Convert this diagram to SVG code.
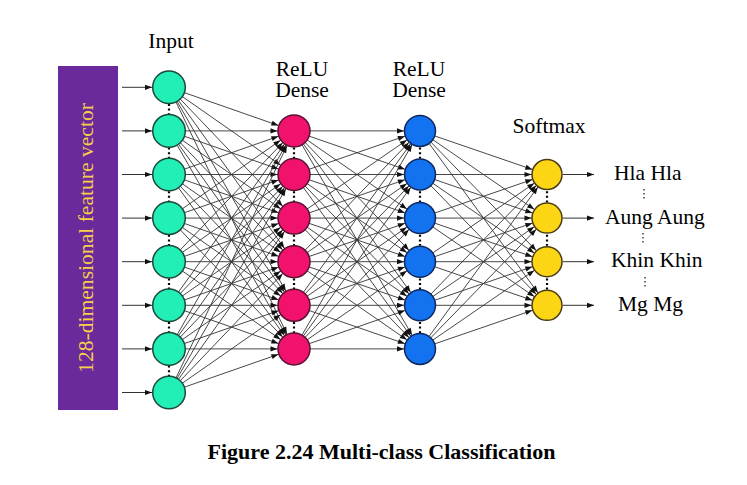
<svg xmlns="http://www.w3.org/2000/svg" width="747" height="485" viewBox="0 0 747 485">
<style>
text{font-family:"Liberation Serif","Times New Roman",serif;fill:#000}
.lbl{font-size:21.5px}
.c line{stroke:#333;stroke-width:0.9;fill:none}
.io line{stroke:#333;stroke-width:1}
.nin{fill:#22efb6;stroke:#1c4a3c;stroke-width:1.5}
.nr1{fill:#f0126c;stroke:#5a1232;stroke-width:1.5}
.nr2{fill:#1272f0;stroke:#10285e;stroke-width:1.5}
.nsm{fill:#fcd614;stroke:#4a3c10;stroke-width:1.5}
.dots line{stroke:#000;stroke-width:2.2;stroke-dasharray:2 2.6}
.ldots line{stroke:#333;stroke-width:1.4;stroke-dasharray:1.4 2.6}
</style>
<defs>
<marker id="a0" markerUnits="userSpaceOnUse" markerWidth="8" markerHeight="6" refX="0" refY="0" orient="auto" overflow="visible"><path d="M-7,-2.6 L0,0 L-7,2.6 z" fill="#111"/></marker>
<marker id="a16" markerUnits="userSpaceOnUse" markerWidth="8" markerHeight="6" refX="16.5" refY="0" orient="auto" overflow="visible"><path d="M-7,-2.6 L0,0 L-7,2.6 z" fill="#111"/></marker>
<marker id="a155" markerUnits="userSpaceOnUse" markerWidth="8" markerHeight="6" refX="16" refY="0" orient="auto" overflow="visible"><path d="M-7,-2.6 L0,0 L-7,2.6 z" fill="#111"/></marker>
<marker id="a15" markerUnits="userSpaceOnUse" markerWidth="8" markerHeight="6" refX="15.5" refY="0" orient="auto" overflow="visible"><path d="M-7,-2.6 L0,0 L-7,2.6 z" fill="#111"/></marker>
</defs>
<rect width="747" height="485" fill="#fff"/>

<g id="feature-vector">
<rect x="58" y="66" width="60" height="344" fill="#6a2a9c"/>
<text transform="translate(93,238) rotate(-90)" text-anchor="middle" style="fill:#f7d04a;font-size:21.6px">128-dimensional feature vector</text>
</g>

<g id="connectors">
<g class="io" marker-end="url(#a0)">
<line x1="122" y1="87.3" x2="152" y2="87.3"/>
<line x1="122" y1="130.9" x2="152" y2="130.9"/>
<line x1="122" y1="174.5" x2="152" y2="174.5"/>
<line x1="122" y1="218.1" x2="152" y2="218.1"/>
<line x1="122" y1="261.7" x2="152" y2="261.7"/>
<line x1="122" y1="305.3" x2="152" y2="305.3"/>
<line x1="122" y1="348.9" x2="152" y2="348.9"/>
<line x1="122" y1="392.5" x2="152" y2="392.5"/>
<line x1="563" y1="174.5" x2="594" y2="174.5"/>
<line x1="563" y1="218.1" x2="594" y2="218.1"/>
<line x1="563" y1="261.7" x2="594" y2="261.7"/>
<line x1="563" y1="305.3" x2="594" y2="305.3"/>
</g>
<g class="c" marker-end="url(#a16)">
<line x1="169" y1="87.3" x2="294" y2="130.9"/><line x1="169" y1="87.3" x2="294" y2="174.5"/><line x1="169" y1="87.3" x2="294" y2="218.1"/><line x1="169" y1="87.3" x2="294" y2="261.7"/><line x1="169" y1="87.3" x2="294" y2="305.3"/><line x1="169" y1="87.3" x2="294" y2="348.9"/>
<line x1="169" y1="130.9" x2="294" y2="130.9"/><line x1="169" y1="130.9" x2="294" y2="174.5"/><line x1="169" y1="130.9" x2="294" y2="218.1"/><line x1="169" y1="130.9" x2="294" y2="261.7"/><line x1="169" y1="130.9" x2="294" y2="305.3"/><line x1="169" y1="130.9" x2="294" y2="348.9"/>
<line x1="169" y1="174.5" x2="294" y2="130.9"/><line x1="169" y1="174.5" x2="294" y2="174.5"/><line x1="169" y1="174.5" x2="294" y2="218.1"/><line x1="169" y1="174.5" x2="294" y2="261.7"/><line x1="169" y1="174.5" x2="294" y2="305.3"/><line x1="169" y1="174.5" x2="294" y2="348.9"/>
<line x1="169" y1="218.1" x2="294" y2="130.9"/><line x1="169" y1="218.1" x2="294" y2="174.5"/><line x1="169" y1="218.1" x2="294" y2="218.1"/><line x1="169" y1="218.1" x2="294" y2="261.7"/><line x1="169" y1="218.1" x2="294" y2="305.3"/><line x1="169" y1="218.1" x2="294" y2="348.9"/>
<line x1="169" y1="261.7" x2="294" y2="130.9"/><line x1="169" y1="261.7" x2="294" y2="174.5"/><line x1="169" y1="261.7" x2="294" y2="218.1"/><line x1="169" y1="261.7" x2="294" y2="261.7"/><line x1="169" y1="261.7" x2="294" y2="305.3"/><line x1="169" y1="261.7" x2="294" y2="348.9"/>
<line x1="169" y1="305.3" x2="294" y2="130.9"/><line x1="169" y1="305.3" x2="294" y2="174.5"/><line x1="169" y1="305.3" x2="294" y2="218.1"/><line x1="169" y1="305.3" x2="294" y2="261.7"/><line x1="169" y1="305.3" x2="294" y2="305.3"/><line x1="169" y1="305.3" x2="294" y2="348.9"/>
<line x1="169" y1="348.9" x2="294" y2="130.9"/><line x1="169" y1="348.9" x2="294" y2="174.5"/><line x1="169" y1="348.9" x2="294" y2="218.1"/><line x1="169" y1="348.9" x2="294" y2="261.7"/><line x1="169" y1="348.9" x2="294" y2="305.3"/><line x1="169" y1="348.9" x2="294" y2="348.9"/>
<line x1="169" y1="392.5" x2="294" y2="130.9"/><line x1="169" y1="392.5" x2="294" y2="174.5"/><line x1="169" y1="392.5" x2="294" y2="218.1"/><line x1="169" y1="392.5" x2="294" y2="261.7"/><line x1="169" y1="392.5" x2="294" y2="305.3"/><line x1="169" y1="392.5" x2="294" y2="348.9"/>
</g>
<g class="c" marker-end="url(#a155)">
<line x1="294" y1="130.9" x2="420" y2="130.9"/><line x1="294" y1="130.9" x2="420" y2="174.5"/><line x1="294" y1="130.9" x2="420" y2="218.1"/><line x1="294" y1="130.9" x2="420" y2="261.7"/><line x1="294" y1="130.9" x2="420" y2="305.3"/><line x1="294" y1="130.9" x2="420" y2="348.9"/>
<line x1="294" y1="174.5" x2="420" y2="130.9"/><line x1="294" y1="174.5" x2="420" y2="174.5"/><line x1="294" y1="174.5" x2="420" y2="218.1"/><line x1="294" y1="174.5" x2="420" y2="261.7"/><line x1="294" y1="174.5" x2="420" y2="305.3"/><line x1="294" y1="174.5" x2="420" y2="348.9"/>
<line x1="294" y1="218.1" x2="420" y2="130.9"/><line x1="294" y1="218.1" x2="420" y2="174.5"/><line x1="294" y1="218.1" x2="420" y2="218.1"/><line x1="294" y1="218.1" x2="420" y2="261.7"/><line x1="294" y1="218.1" x2="420" y2="305.3"/><line x1="294" y1="218.1" x2="420" y2="348.9"/>
<line x1="294" y1="261.7" x2="420" y2="130.9"/><line x1="294" y1="261.7" x2="420" y2="174.5"/><line x1="294" y1="261.7" x2="420" y2="218.1"/><line x1="294" y1="261.7" x2="420" y2="261.7"/><line x1="294" y1="261.7" x2="420" y2="305.3"/><line x1="294" y1="261.7" x2="420" y2="348.9"/>
<line x1="294" y1="305.3" x2="420" y2="130.9"/><line x1="294" y1="305.3" x2="420" y2="174.5"/><line x1="294" y1="305.3" x2="420" y2="218.1"/><line x1="294" y1="305.3" x2="420" y2="261.7"/><line x1="294" y1="305.3" x2="420" y2="305.3"/><line x1="294" y1="305.3" x2="420" y2="348.9"/>
<line x1="294" y1="348.9" x2="420" y2="130.9"/><line x1="294" y1="348.9" x2="420" y2="174.5"/><line x1="294" y1="348.9" x2="420" y2="218.1"/><line x1="294" y1="348.9" x2="420" y2="261.7"/><line x1="294" y1="348.9" x2="420" y2="305.3"/><line x1="294" y1="348.9" x2="420" y2="348.9"/>
</g>
<g class="c" marker-end="url(#a15)">
<line x1="420" y1="130.9" x2="547" y2="174.5"/><line x1="420" y1="130.9" x2="547" y2="218.1"/><line x1="420" y1="130.9" x2="547" y2="261.7"/><line x1="420" y1="130.9" x2="547" y2="305.3"/>
<line x1="420" y1="174.5" x2="547" y2="174.5"/><line x1="420" y1="174.5" x2="547" y2="218.1"/><line x1="420" y1="174.5" x2="547" y2="261.7"/><line x1="420" y1="174.5" x2="547" y2="305.3"/>
<line x1="420" y1="218.1" x2="547" y2="174.5"/><line x1="420" y1="218.1" x2="547" y2="218.1"/><line x1="420" y1="218.1" x2="547" y2="261.7"/><line x1="420" y1="218.1" x2="547" y2="305.3"/>
<line x1="420" y1="261.7" x2="547" y2="174.5"/><line x1="420" y1="261.7" x2="547" y2="218.1"/><line x1="420" y1="261.7" x2="547" y2="261.7"/><line x1="420" y1="261.7" x2="547" y2="305.3"/>
<line x1="420" y1="305.3" x2="547" y2="174.5"/><line x1="420" y1="305.3" x2="547" y2="218.1"/><line x1="420" y1="305.3" x2="547" y2="261.7"/><line x1="420" y1="305.3" x2="547" y2="305.3"/>
<line x1="420" y1="348.9" x2="547" y2="174.5"/><line x1="420" y1="348.9" x2="547" y2="218.1"/><line x1="420" y1="348.9" x2="547" y2="261.7"/><line x1="420" y1="348.9" x2="547" y2="305.3"/>
</g>
</g>

<g id="layer-dots" class="dots">
<line x1="169" y1="104" x2="169" y2="115"/><line x1="169" y1="147.6" x2="169" y2="158.6"/><line x1="169" y1="191.2" x2="169" y2="202.2"/><line x1="169" y1="234.8" x2="169" y2="245.8"/><line x1="169" y1="278.4" x2="169" y2="289.4"/><line x1="169" y1="322" x2="169" y2="333"/><line x1="169" y1="365.6" x2="169" y2="376.6"/>
<line x1="294" y1="147.6" x2="294" y2="158.6"/><line x1="294" y1="191.2" x2="294" y2="202.2"/><line x1="294" y1="234.8" x2="294" y2="245.8"/><line x1="294" y1="278.4" x2="294" y2="289.4"/><line x1="294" y1="322" x2="294" y2="333"/>
<line x1="420" y1="147.6" x2="420" y2="158.6"/><line x1="420" y1="191.2" x2="420" y2="202.2"/><line x1="420" y1="234.8" x2="420" y2="245.8"/><line x1="420" y1="278.4" x2="420" y2="289.4"/><line x1="420" y1="322" x2="420" y2="333"/>
<line x1="547" y1="191.2" x2="547" y2="202.2"/><line x1="547" y1="234.8" x2="547" y2="245.8"/><line x1="547" y1="278.4" x2="547" y2="289.4"/>
</g>

<g id="input-layer">
<circle class="nin" cx="169" cy="87.3" r="16.3"/><circle class="nin" cx="169" cy="130.9" r="16.3"/><circle class="nin" cx="169" cy="174.5" r="16.3"/><circle class="nin" cx="169" cy="218.1" r="16.3"/><circle class="nin" cx="169" cy="261.7" r="16.3"/><circle class="nin" cx="169" cy="305.3" r="16.3"/><circle class="nin" cx="169" cy="348.9" r="16.3"/><circle class="nin" cx="169" cy="392.5" r="16.3"/>
<text class="lbl" x="171" y="48" text-anchor="middle">Input</text>
</g>
<g id="relu-dense-1">
<circle class="nr1" cx="294" cy="130.9" r="16"/><circle class="nr1" cx="294" cy="174.5" r="16"/><circle class="nr1" cx="294" cy="218.1" r="16"/><circle class="nr1" cx="294" cy="261.7" r="16"/><circle class="nr1" cx="294" cy="305.3" r="16"/><circle class="nr1" cx="294" cy="348.9" r="16"/>
<text class="lbl" x="302" y="76" text-anchor="middle">ReLU<tspan x="302" dy="21">Dense</tspan></text>
</g>
<g id="relu-dense-2">
<circle class="nr2" cx="420" cy="130.9" r="15.5"/><circle class="nr2" cx="420" cy="174.5" r="15.5"/><circle class="nr2" cx="420" cy="218.1" r="15.5"/><circle class="nr2" cx="420" cy="261.7" r="15.5"/><circle class="nr2" cx="420" cy="305.3" r="15.5"/><circle class="nr2" cx="420" cy="348.9" r="15.5"/>
<text class="lbl" x="419" y="76" text-anchor="middle">ReLU<tspan x="419" dy="21">Dense</tspan></text>
</g>
<g id="softmax">
<circle class="nsm" cx="547" cy="174.5" r="15"/><circle class="nsm" cx="547" cy="218.1" r="15"/><circle class="nsm" cx="547" cy="261.7" r="15"/><circle class="nsm" cx="547" cy="305.3" r="15"/>
<text class="lbl" x="549" y="133" text-anchor="middle">Softmax</text>
</g>

<g id="outputs">
<text class="lbl" x="614" y="180">Hla Hla</text>
<text class="lbl" x="605" y="223.5">Aung Aung</text>
<text class="lbl" x="611" y="267">Khin Khin</text>
<text class="lbl" x="618" y="310.5">Mg Mg</text>
<g class="ldots">
<line x1="644" y1="189" x2="644" y2="201"/>
<line x1="643" y1="233" x2="643" y2="245"/>
<line x1="645" y1="277" x2="645" y2="289"/>
</g>
</g>

<text x="381.5" y="459" text-anchor="middle" style="font-size:22px;font-weight:bold">Figure 2.24 Multi-class Classification</text>
</svg>
